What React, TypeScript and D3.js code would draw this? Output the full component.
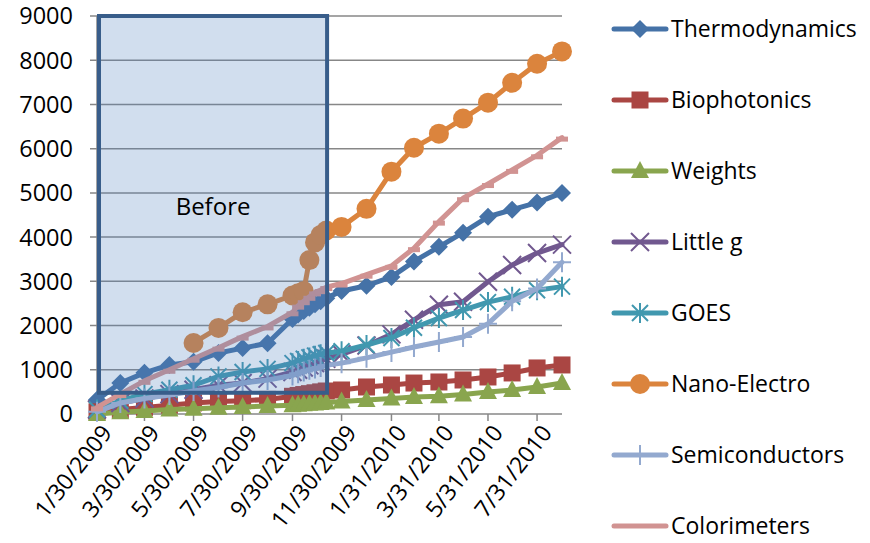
import { useEffect, useRef } from 'react';
import * as d3 from 'd3';

// sample dates (monthly, then weekly around Oct 2009, then monthly again)
const dates = [
  '2009-01-30', '2009-02-28', '2009-03-30', '2009-04-30', '2009-05-30', '2009-06-30',
  '2009-07-30', '2009-08-30', '2009-09-30', '2009-10-07', '2009-10-14', '2009-10-21',
  '2009-10-28', '2009-11-04', '2009-11-11', '2009-11-30', '2009-12-31', '2010-01-31',
  '2010-02-28', '2010-03-31', '2010-04-30', '2010-05-31', '2010-06-30', '2010-07-31',
  '2010-08-31',
];

const thermodynamics = [320, 700, 930, 1110, 1180, 1380, 1490, 1600, 2150, 2250, 2330, 2400, 2480, 2550, 2620, 2780, 2900, 3100, 3450, 3780, 4100, 4460, 4620, 4780, 5000];
const biophotonics = [50, 100, 150, 200, 250, 280, 300, 330, 400, 420, 440, 460, 480, 500, 520, 543, 611, 656, 700, 724, 769, 837, 928, 1041, 1109];
const weights = [0, 40, 70, 100, 120, 140, 160, 180, 200, 210, 220, 230, 240, 250, 260, 280, 317, 350, 385, 400, 440, 498, 543, 611, 701];
const littleG = [100, 250, 350, 450, 550, 650, 700, 800, 950, 1000, 1050, 1100, 1150, 1200, 1250, 1350, 1550, 1800, 2130, 2470, 2540, 2990, 3370, 3640, 3830];
const goes = [100, 300, 450, 550, 650, 850, 950, 1020, 1150, 1200, 1250, 1280, 1320, 1350, 1380, 1420, 1560, 1720, 1950, 2170, 2350, 2530, 2650, 2800, 2880];
const nanoElectro = [null, null, null, null, 1606, 1946, 2300, 2480, 2680, 2730, 2780, 3480, 3880, 4050, 4150, 4231, 4640, 5480, 6020, 6340, 6680, 7040, 7490, 7920, 8200];
const semiconductors = [50, 250, 350, 430, 520, 600, 700, 770, 870, 920, 960, 1000, 1030, 1060, 1100, 1150, 1270, 1400, 1516, 1629, 1742, 2040, 2550, 2840, 3430];
const colorimeters = [150, 450, 750, 1000, 1250, 1500, 1750, 1980, 2300, 2450, 2550, 2650, 2750, 2800, 2870, 2950, 3150, 3350, 3750, 4350, 4880, 5200, 5520, 5850, 6250];

const seriesNames = ['Thermodynamics', 'Biophotonics', 'Weights', 'Little g', 'GOES', 'Nano-Electro', 'Semiconductors', 'Colorimeters'];
const seriesValues = [thermodynamics, biophotonics, weights, littleG, goes, nanoElectro, semiconductors, colorimeters];
const seriesColors = ['#4572a7', '#aa4643', '#89a54e', '#71588f', '#4198af', '#db843d', '#93a9cf', '#d19392'];
const seriesMarkers = ['diamond', 'square', 'triangle', 'x', 'star', 'circle', 'plus', 'dash'];

const xTickLabels = ['1/30/2009', '3/30/2009', '5/30/2009', '7/30/2009', '9/30/2009', '11/30/2009', '1/31/2010', '3/31/2010', '5/31/2010', '7/31/2010'];
const yTicks = [0, 1000, 2000, 3000, 4000, 5000, 6000, 7000, 8000, 9000];

// the "Before" box: start date, end date, lower and upper value
const beforeStart = '2009-01-30';
const beforeEnd = '2009-11-12';
const beforeLow = 480;
const beforeHigh = 9000;

const FONT = '"Open Sans", "Noto Sans", sans-serif';

export default function App() {
  const svgRef = useRef<SVGSVGElement>(null);

  useEffect(() => {
    if (!svgRef.current) return;
    const svg = d3.select(svgRef.current);
    svg.selectAll('*').remove();

    const parse = d3.timeParse('%Y-%m-%d');
    const parseLabel = d3.timeParse('%m/%d/%Y');
    const xs = dates.map(d => parse(d) as Date);

    const x = d3.scaleTime()
      .domain([parse('2009-01-30') as Date, parse('2010-08-31') as Date])
      .range([97, 562]);
    const y = d3.scaleLinear().domain([0, 9000]).range([414, 16]);

    // gridlines
    svg.append('g')
      .selectAll('line')
      .data(yTicks.slice(1))
      .join('line')
      .attr('x1', 90).attr('x2', 562)
      .attr('y1', d => y(d)).attr('y2', d => y(d))
      .attr('stroke', '#878787').attr('stroke-width', 1.5);

    // y axis
    svg.append('line')
      .attr('x1', 97).attr('x2', 97).attr('y1', y(9000)).attr('y2', y(0))
      .attr('stroke', '#878787').attr('stroke-width', 1.5);
    svg.append('line')
      .attr('x1', 90).attr('x2', 97).attr('y1', y(0)).attr('y2', y(0))
      .attr('stroke', '#878787').attr('stroke-width', 1.5);
    svg.append('g')
      .selectAll('text')
      .data(yTicks)
      .join('text')
      .attr('x', 73).attr('y', d => y(d))
      .attr('dy', '0.36em')
      .attr('text-anchor', 'end')
      .attr('font-family', FONT).attr('font-size', 23.5).attr('fill', '#000')
      .text(d => String(d));

    // x axis
    svg.append('line')
      .attr('x1', 97).attr('x2', 562).attr('y1', y(0)).attr('y2', y(0))
      .attr('stroke', '#878787').attr('stroke-width', 1.5);
    const tickDates = xTickLabels.map(t => parseLabel(t) as Date);
    svg.append('g')
      .selectAll('line')
      .data(tickDates)
      .join('line')
      .attr('x1', d => x(d)).attr('x2', d => x(d))
      .attr('y1', y(0)).attr('y2', y(0) + 7)
      .attr('stroke', '#878787').attr('stroke-width', 1.5);
    svg.append('g')
      .selectAll('text')
      .data(xTickLabels)
      .join('text')
      .attr('transform', (d, i) => `translate(${x(tickDates[i]) + 3},${y(0) + 9}) rotate(-52)`)
      .attr('text-anchor', 'end')
      .attr('dy', '0.72em')
      .attr('font-family', FONT).attr('font-size', 23).attr('fill', '#000')
      .text(d => d);

    const drawMarker = (g: any, kind: string, color: string, cx: number, cy: number) => {
      if (kind === 'diamond') {
        g.append('path').attr('d', `M${cx},${cy - 9}L${cx + 9},${cy}L${cx},${cy + 9}L${cx - 9},${cy}Z`).attr('fill', color);
      } else if (kind === 'square') {
        g.append('rect').attr('x', cx - 8.5).attr('y', cy - 8.5).attr('width', 17).attr('height', 17).attr('fill', color);
      } else if (kind === 'triangle') {
        g.append('path').attr('d', `M${cx},${cy - 10}L${cx + 9},${cy + 7}L${cx - 9},${cy + 7}Z`).attr('fill', color);
      } else if (kind === 'circle') {
        g.append('circle').attr('cx', cx).attr('cy', cy).attr('r', 10).attr('fill', color);
      } else if (kind === 'x') {
        g.append('path').attr('d', `M${cx - 9},${cy - 9}L${cx + 9},${cy + 9}M${cx - 9},${cy + 9}L${cx + 9},${cy - 9}`)
          .attr('stroke', color).attr('stroke-width', 2);
      } else if (kind === 'star') {
        g.append('path').attr('d', `M${cx - 8},${cy - 8}L${cx + 8},${cy + 8}M${cx - 8},${cy + 8}L${cx + 8},${cy - 8}M${cx},${cy - 10}L${cx},${cy + 10}`)
          .attr('stroke', color).attr('stroke-width', 2);
      } else if (kind === 'plus') {
        g.append('path').attr('d', `M${cx},${cy - 10}L${cx},${cy + 10}M${cx - 9},${cy}L${cx + 9},${cy}`)
          .attr('stroke', color).attr('stroke-width', 2);
      } else if (kind === 'dash') {
        g.append('rect').attr('x', cx - 6).attr('y', cy - 1).attr('width', 12).attr('height', 5).attr('fill', color);
      }
    };

    // series
    seriesValues.forEach((vals, si) => {
      const color = seriesColors[si];
      const pts = vals
        .map((v, i) => ({ d: xs[i], v }))
        .filter(p => p.v !== null) as { d: Date; v: number }[];
      const line = d3.line<{ d: Date; v: number }>()
        .x(p => x(p.d))
        .y(p => y(p.v));
      const g = svg.append('g');
      g.append('path')
        .datum(pts)
        .attr('fill', 'none')
        .attr('stroke', color)
        .attr('stroke-width', 5)
        .attr('stroke-linejoin', 'round')
        .attr('stroke-linecap', 'round')
        .attr('d', line);
      pts.forEach(p => drawMarker(g, seriesMarkers[si], color, x(p.d), y(p.v)));
    });

    // "Before" box on top
    const bx0 = x(parse(beforeStart) as Date) + 2;
    const bx1 = x(parse(beforeEnd) as Date);
    svg.append('rect')
      .attr('x', bx0).attr('y', y(beforeHigh))
      .attr('width', bx1 - bx0).attr('height', y(beforeLow) - y(beforeHigh))
      .attr('fill', '#4f81bd').attr('fill-opacity', 0.26)
      .attr('stroke', '#385d8a').attr('stroke-width', 4);
    svg.append('text')
      .attr('x', (bx0 + bx1) / 2).attr('y', y(4700))
      .attr('dy', '0.36em')
      .attr('text-anchor', 'middle')
      .attr('font-family', FONT).attr('font-size', 24).attr('fill', '#000')
      .text('Before');

    // legend
    const legendY = [29, 100, 171, 242, 313, 384, 455, 526];
    seriesNames.forEach((name, si) => {
      const ly = legendY[si];
      const g = svg.append('g');
      g.append('line')
        .attr('x1', 614).attr('x2', 666).attr('y1', ly).attr('y2', ly)
        .attr('stroke', seriesColors[si]).attr('stroke-width', 5).attr('stroke-linecap', 'round');
      if (seriesMarkers[si] !== 'dash') drawMarker(g, seriesMarkers[si], seriesColors[si], 640, ly);
      g.append('text')
        .attr('x', 671).attr('y', ly).attr('dy', '0.36em')
        .attr('font-family', FONT).attr('font-size', 23).attr('fill', '#000')
        .text(name);
    });
  }, []);

  return (
    <svg ref={svgRef} width={870} height={543}
      style={{ position: 'absolute', left: 0, top: 0, background: '#fff' }} />
  );
}
